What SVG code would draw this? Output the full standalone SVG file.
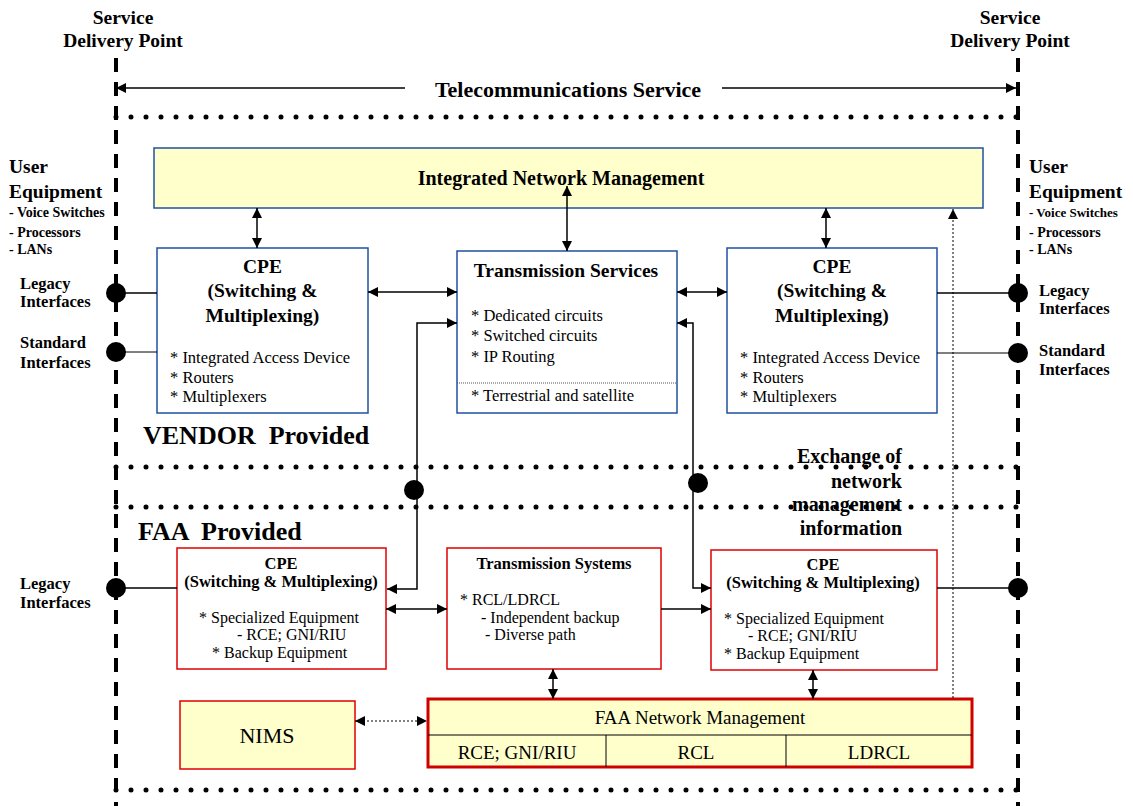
<svg xmlns="http://www.w3.org/2000/svg" width="1133" height="806" viewBox="0 0 1133 806">
<defs>
<marker id="ah" viewBox="0 0 10 10" refX="10" refY="5" markerWidth="10" markerHeight="10" markerUnits="userSpaceOnUse" orient="auto-start-reverse"><path d="M0,0 L10,5 L0,10 z" fill="#000"/></marker>
<style>
text{font-family:"Liberation Serif","Times New Roman",serif;fill:#000}
.b{font-weight:bold}
.dash{stroke:#000;stroke-width:4;stroke-dasharray:14 10;fill:none}
.dots{stroke:#000;stroke-width:5;stroke-dasharray:0 15;stroke-linecap:round;fill:none}
.vbox{fill:#fff;stroke:#2050a0;stroke-width:1.5}
.rbox{fill:#fff;stroke:#e00000;stroke-width:1.5}
.ybox{fill:#ffffcc}
.ln{stroke:#000;stroke-width:1.5;fill:none}
.lnt{stroke:#000;stroke-width:1;fill:none}
.arr{stroke:#000;stroke-width:1.5;fill:none;marker-start:url(#ah);marker-end:url(#ah)}
.arr1{stroke:#000;stroke-width:1.5;fill:none;marker-end:url(#ah)}
.dotln{stroke:#000;stroke-width:1;stroke-dasharray:2 2;fill:none}
.lst{font-size:16.5px}
.lst2{font-size:16px}
</style>
</defs>
<rect width="1133" height="806" fill="#fff"/>

<g id="frame">
<line class="dots" x1="116" y1="117" x2="1018" y2="117"/>
<line class="dots" x1="116" y1="467" x2="1018" y2="467"/>
<line class="dots" x1="116" y1="507" x2="1018" y2="507"/>
<line class="dots" x1="116" y1="790" x2="1018" y2="790"/>
<line class="dash" x1="116" y1="58" x2="116" y2="806"/>
<line class="dash" x1="1018" y1="58" x2="1018" y2="806"/>
</g>

<g id="labels">
<text class="b" font-size="19.5" text-anchor="middle" x="123" y="24">Service</text>
<text class="b" font-size="19.5" text-anchor="middle" x="123" y="47">Delivery Point</text>
<text class="b" font-size="19.5" text-anchor="middle" x="1010" y="24">Service</text>
<text class="b" font-size="19.5" text-anchor="middle" x="1010" y="47">Delivery Point</text>
<text class="b" font-size="22" text-anchor="middle" x="568" y="97">Telecommunications Service</text>
<text class="b" font-size="19.5" x="9" y="173">User</text>
<text class="b" font-size="19.5" x="9" y="198">Equipment</text>
<text class="b" font-size="14" x="9" y="217">- Voice Switches</text>
<text class="b" font-size="14" x="9" y="237">- Processors</text>
<text class="b" font-size="14" x="9" y="254">- LANs</text>
<text class="b" font-size="16.5" x="20" y="289">Legacy</text>
<text class="b" font-size="16.5" x="20" y="307">Interfaces</text>
<text class="b" font-size="16.5" x="20" y="348">Standard</text>
<text class="b" font-size="16.5" x="20" y="368">Interfaces</text>
<text class="b" font-size="19.5" x="1029" y="173">User</text>
<text class="b" font-size="19.5" x="1029" y="198">Equipment</text>
<text class="b" font-size="13" x="1029" y="217">- Voice Switches</text>
<text class="b" font-size="14" x="1029" y="237">- Processors</text>
<text class="b" font-size="14" x="1029" y="254">- LANs</text>
<text class="b" font-size="16.5" x="1039" y="296">Legacy</text>
<text class="b" font-size="16.5" x="1039" y="314">Interfaces</text>
<text class="b" font-size="16.5" x="1039" y="356">Standard</text>
<text class="b" font-size="16.5" x="1039" y="375">Interfaces</text>
<text class="b" font-size="16.5" x="20" y="589">Legacy</text>
<text class="b" font-size="16.5" x="20" y="608">Interfaces</text>
<text class="b" font-size="26" x="143" y="444" xml:space="preserve">VENDOR  Provided</text>
<text class="b" font-size="26" x="138" y="540" xml:space="preserve">FAA  Provided</text>
<text class="b" font-size="20" text-anchor="end" x="902" y="463">Exchange of</text>
<text class="b" font-size="20" text-anchor="end" x="902" y="488">network</text>
<text class="b" font-size="20" text-anchor="end" x="902" y="511">management</text>
<text class="b" font-size="20" text-anchor="end" x="902" y="535">information</text>
</g>

<g id="inm">
<rect class="ybox" x="154" y="148" width="829" height="60" stroke="#2050a0" stroke-width="1.5"/>
<text class="b" font-size="20" text-anchor="middle" x="561" y="185">Integrated Network Management</text>
</g>

<g id="cpe-vendor-left">
<rect class="vbox" x="157" y="248" width="211" height="165"/>
<text class="b" font-size="19.5" text-anchor="middle" x="262.5" y="273">CPE</text>
<text class="b" font-size="19.5" text-anchor="middle" x="262.5" y="297">(Switching &amp;</text>
<text class="b" font-size="19.5" text-anchor="middle" x="262.5" y="322">Multiplexing)</text>
<text class="lst" x="170" y="363">* Integrated Access Device</text>
<text class="lst" x="170" y="383">* Routers</text>
<text class="lst" x="170" y="402">* Multiplexers</text>
</g>

<g id="transmission-services">
<rect class="vbox" x="457" y="251" width="220" height="162"/>
<text class="b" font-size="19.5" text-anchor="middle" x="566" y="277">Transmission Services</text>
<text class="lst" x="471" y="321">* Dedicated circuits</text>
<text class="lst" x="471" y="341">* Switched circuits</text>
<text class="lst" x="471" y="362">* IP Routing</text>
<line x1="457" y1="383" x2="677" y2="383" stroke="#555" stroke-width="1" stroke-dasharray="1 1"/>
<text class="lst" x="471" y="401">* Terrestrial and satellite</text>
</g>

<g id="cpe-vendor-right">
<rect class="vbox" x="727" y="248" width="210" height="165"/>
<text class="b" font-size="19.5" text-anchor="middle" x="832" y="273">CPE</text>
<text class="b" font-size="19.5" text-anchor="middle" x="832" y="297">(Switching &amp;</text>
<text class="b" font-size="19.5" text-anchor="middle" x="832" y="322">Multiplexing)</text>
<text class="lst" x="740" y="363">* Integrated Access Device</text>
<text class="lst" x="740" y="383">* Routers</text>
<text class="lst" x="740" y="402">* Multiplexers</text>
</g>

<g id="cpe-faa-left">
<rect class="rbox" x="177" y="548" width="209" height="121"/>
<text class="b" font-size="16.5" text-anchor="middle" x="281" y="569">CPE</text>
<text class="b" font-size="16.5" text-anchor="middle" x="281" y="587">(Switching &amp; Multiplexing)</text>
<text class="lst2" x="199" y="623">* Specialized Equipment</text>
<text class="lst2" x="237" y="640">- RCE; GNI/RIU</text>
<text class="lst2" x="212" y="658">* Backup Equipment</text>
</g>

<g id="transmission-systems">
<rect class="rbox" x="447" y="548" width="214" height="121"/>
<text class="b" font-size="16.5" text-anchor="middle" x="554" y="569">Transmission Systems</text>
<text class="lst2" x="460" y="605">* RCL/LDRCL</text>
<text class="lst2" x="481" y="623">- Independent backup</text>
<text class="lst2" x="485" y="640">- Diverse path</text>
</g>

<g id="cpe-faa-right">
<rect class="rbox" x="711" y="550" width="226" height="120"/>
<text class="b" font-size="16.5" text-anchor="middle" x="823" y="570">CPE</text>
<text class="b" font-size="16.5" text-anchor="middle" x="823" y="588">(Switching &amp; Multiplexing)</text>
<text class="lst2" x="724" y="624">* Specialized Equipment</text>
<text class="lst2" x="748" y="641">- RCE; GNI/RIU</text>
<text class="lst2" x="724" y="659">* Backup Equipment</text>
</g>

<g id="nims">
<rect class="ybox" x="180" y="701" width="175" height="68" stroke="#e00000" stroke-width="1.5"/>
<text font-size="22" text-anchor="middle" x="267" y="743">NIMS</text>
</g>

<g id="faa-nm">
<rect class="ybox" x="428" y="699" width="544" height="68" stroke="#d00000" stroke-width="3"/>
<line class="lnt" x1="428" y1="735" x2="972" y2="735"/>
<line class="lnt" x1="606" y1="735" x2="606" y2="767"/>
<line class="lnt" x1="786" y1="735" x2="786" y2="767"/>
<text font-size="19" text-anchor="middle" x="700" y="724">FAA Network Management</text>
<text font-size="19" text-anchor="middle" x="517" y="759">RCE; GNI/RIU</text>
<text font-size="19" text-anchor="middle" x="696" y="759">RCL</text>
<text font-size="19" text-anchor="middle" x="879" y="759">LDRCL</text>
</g>

<g id="connectors">
<line class="ln" x1="405" y1="88" x2="116" y2="88" marker-end="url(#ah)"/>
<line class="ln" x1="722" y1="88" x2="1016" y2="88" marker-end="url(#ah)"/>
<line class="arr" x1="257" y1="208" x2="257" y2="248"/>
<line class="arr" x1="567" y1="186" x2="567" y2="251"/>
<line class="arr" x1="826" y1="208" x2="826" y2="248"/>
<line class="arr" x1="368" y1="292" x2="457" y2="292"/>
<line class="arr" x1="677" y1="292" x2="727" y2="292"/>
<polyline class="arr" points="387,589 417,589 417,323 457,323"/>
<polyline class="arr" points="677,323 693,323 693,588 711,588"/>
<line class="arr" x1="386" y1="609" x2="447" y2="609"/>
<line class="arr1" x1="661" y1="609" x2="711" y2="609"/>
<line class="arr" x1="553" y1="669" x2="553" y2="699"/>
<line class="arr" x1="813" y1="670" x2="813" y2="699"/>
<line class="dotln" x1="355" y1="721" x2="427" y2="721" marker-start="url(#ah)" marker-end="url(#ah)"/>
<line class="dotln" x1="953" y1="698" x2="953" y2="209" marker-end="url(#ah)"/>
<line class="ln" x1="116" y1="293" x2="157" y2="293" stroke-width="2"/>
<line class="lnt" x1="116" y1="352" x2="157" y2="352"/>
<line class="ln" x1="937" y1="293" x2="1018" y2="293"/>
<line class="lnt" x1="937" y1="353" x2="1018" y2="353"/>
<line class="ln" x1="116" y1="588" x2="177" y2="588"/>
<line class="ln" x1="937" y1="588" x2="1018" y2="588"/>
<circle cx="116" cy="293" r="10"/>
<circle cx="116" cy="352" r="10"/>
<circle cx="1018" cy="293" r="10"/>
<circle cx="1018" cy="353" r="10"/>
<circle cx="116" cy="588" r="10"/>
<circle cx="1018" cy="588" r="10"/>
<circle cx="414" cy="490" r="10"/>
<circle cx="698" cy="483" r="10"/>
</g>
</svg>
